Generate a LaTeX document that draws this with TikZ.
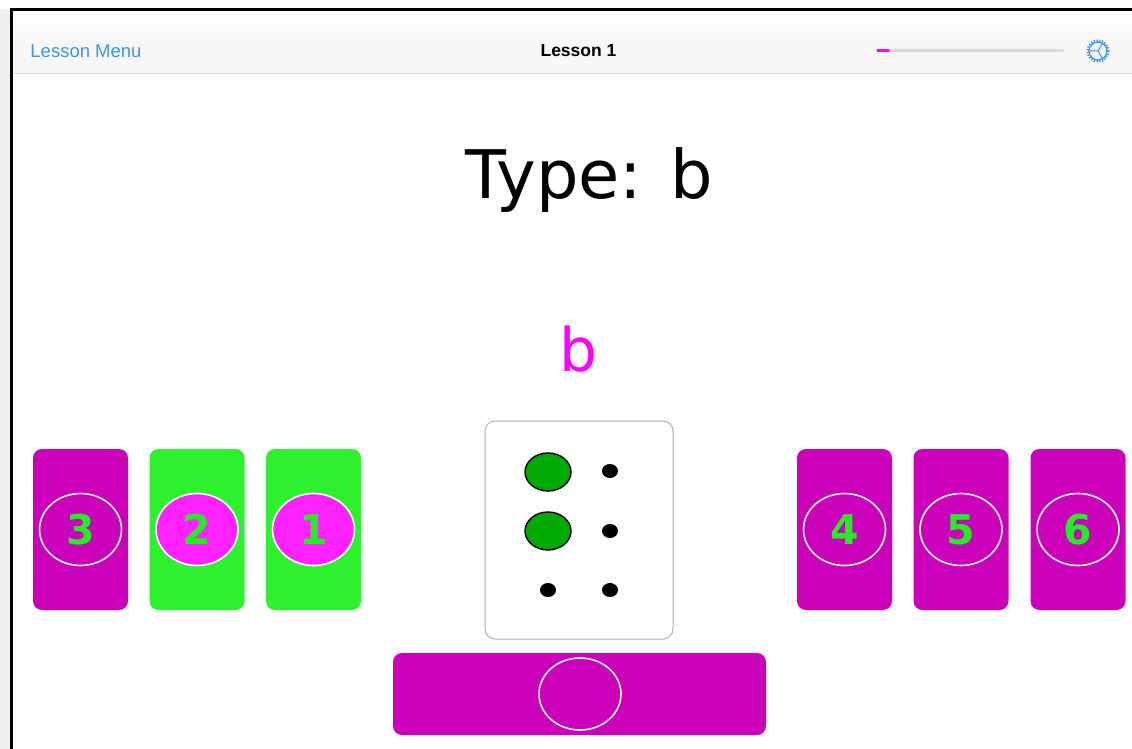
\documentclass[tikz,border=0pt]{standalone}
\usepackage{fontspec}
\setmainfont{DejaVu Sans}
\newfontfamily\uifont{Liberation Sans}
\usetikzlibrary{shapes.geometric}
\definecolor{cardmag}{HTML}{CC00BB}
\definecolor{cardgreen}{HTML}{2EF02E}
\definecolor{ovalmag}{HTML}{FF22FF}
\definecolor{numgreen}{HTML}{22EE22}
\definecolor{dotgreen}{HTML}{00AA00}
\definecolor{iosblue}{HTML}{3A95F5}
\definecolor{navgray}{HTML}{F7F7F7}
\definecolor{pink}{HTML}{FF00FF}
\tikzset{
  card/.style={rounded corners=9pt, minimum width=95pt, minimum height=161pt, inner sep=0pt, draw=none},
  oval/.style={ellipse, draw=white, line width=1.6pt, minimum width=82pt, minimum height=72pt, inner sep=0pt,
     font=\fontsize{41}{41}\selectfont\bfseries, text=numgreen},
  bigdot/.style={ellipse, fill=dotgreen, draw=black, line width=1.4pt, minimum width=46pt, minimum height=38pt, inner sep=0pt},
  smalldot/.style={ellipse, fill=black, minimum width=16pt, minimum height=14pt, inner sep=0pt},
}
\begin{document}
\begin{tikzpicture}[x=1pt,y=-1pt]
\useasboundingbox (0,0) rectangle (1132,749);
% background
\fill[white] (0,0) rectangle (1132,749);
\fill[gray!12] (0,9) rectangle (10,749);
% nav bar
\shade[top color=white, bottom color=navgray] (11,11) rectangle (1132,40);
\fill[navgray] (11,40) rectangle (1132,73);
\draw[gray!30, line width=1pt] (11,73.5) -- (1132,73.5);
% frame
\draw[black, line width=3pt] (11.5,749) -- (11.5,9.5) -- (1132,9.5);
% nav texts
\node[text=iosblue, font=\uifont\fontsize{18.5}{18.5}\selectfont] (menu) at (86,51) {Lesson Menu};
\node[text=black, font=\uifont\bfseries\fontsize{17.5}{17.5}\selectfont] (title) at (578.5,51) {Lesson 1};
% progress
\coordinate (pa) at (877,51);
\coordinate (pb) at (889,51);
\coordinate (pc) at (1063,51);
\draw[gray!30, line width=3pt, line cap=round] (pa) -- (pc);
\draw[pink, line width=3pt] (pa) -- (pb);
% gear
\node[circle, draw=iosblue, line width=1.3pt, minimum size=18pt, inner sep=0pt] (gear) at (1098,51) {};
\draw[iosblue, line width=2.2pt, dash pattern=on 1.2pt off 1.6pt] (gear.center) circle (10.5pt);
\draw[iosblue, line width=1pt] (gear.center) -- ++(-9,0) (gear.center) -- ++(4.5,-7.8) (gear.center) -- ++(4.5,7.8);
% prompt
\node[font=\fontsize{67}{67}\selectfont, text=black] (type) at (589.5,180) {Type: b};
\node[font=\fontsize{60}{60}\selectfont, text=pink] (letter) at (578.5,349) {b};
% cards left
\node[card, fill=cardmag] (c3) at (80.5,529.5) {};
\node[card, fill=cardgreen] (c2) at (197,529.5) {};
\node[card, fill=cardgreen] (c1) at (313.5,529.5) {};
\node[oval] (o3) at (c3) {3};
\node[oval, fill=ovalmag] (o2) at (c2) {2};
\node[oval, fill=ovalmag] (o1) at (c1) {1};
% cards right
\node[card, fill=cardmag] (c4) at (844.5,529.5) {};
\node[card, fill=cardmag] (c5) at (961,529.5) {};
\node[card, fill=cardmag] (c6) at (1078,529.5) {};
\node[oval] (o4) at (c4) {4};
\node[oval] (o5) at (c5) {5};
\node[oval] (o6) at (c6) {6};
% braille cell
\node[draw=gray!60, line width=1pt, rounded corners=10pt, minimum width=188pt, minimum height=218pt, inner sep=0pt, fill=white] (cell) at (579,530) {};
\node[bigdot] (d1) at (548,472) {};
\node[bigdot] (d2) at (548,531) {};
\node[smalldot] (d3) at (548,590) {};
\node[smalldot] (d4) at (610,471) {};
\node[smalldot] (d5) at (610,531) {};
\node[smalldot] (d6) at (610,590) {};
% space bar
\node[fill=cardmag, rounded corners=9pt, minimum width=373pt, minimum height=82pt, inner sep=0pt] (space) at (579.5,694) {};
\node[oval] (spo) at (580,694) {};
\end{tikzpicture}
\end{document}
